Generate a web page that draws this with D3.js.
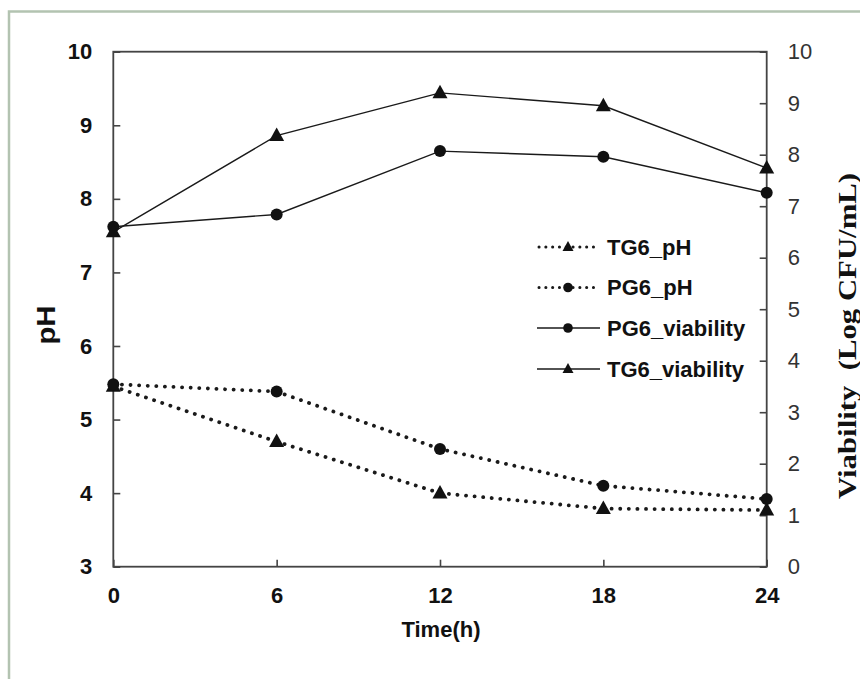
<!DOCTYPE html>
<html>
<head>
<meta charset="utf-8">
<script src="https://cdn.jsdelivr.net/npm/d3@7"></script>
<style>
  body { margin: 0; background: #fff; }
  svg { display: block; }
</style>
</head>
<body>
<div id="chart"></div>
<script>
////////////////////////////////////////////////////////////////
// Data

let hours = [0, 6, 12, 18, 24];

// left axis (pH)
let tg6PH = [5.45, 4.70, 4.00, 3.79, 3.77];
let pg6PH = [5.48, 5.38, 4.60, 4.10, 3.92];

// right axis (viability, log CFU/mL)
let pg6Viab = [6.6, 6.84, 8.07, 7.96, 7.26];
let tg6Viab = [6.5, 8.37, 9.2, 8.95, 7.74];

let xTicks = [0, 6, 12, 18, 24];
let leftTicks = [3, 4, 5, 6, 7, 8, 9, 10];
let rightTicks = [0, 1, 2, 3, 4, 5, 6, 7, 8, 9, 10];

let legendLabels = ["TG6_pH", "PG6_pH", "PG6_viability", "TG6_viability"];


////////////////////////////////////////////////////////////////
// Setup

let W = 860, H = 679;
let margin = {left: 113.3, right: 860 - 766.7, top: 51.7, bottom: 679 - 566.7};
let sans = "'Liberation Sans', Arial, sans-serif";
let serif = "'Liberation Serif', 'Times New Roman', serif";

let svg = d3.select("#chart").append("svg")
  .attr("width", W)
  .attr("height", H);

svg.append("rect")
  .attr("width", W)
  .attr("height", H)
  .attr("fill", "#fff");

// light outer frame (only top and left edges fall inside the picture)
svg.append("path")
  .attr("d", "M9,679 V11.5 H860")
  .attr("fill", "none")
  .attr("stroke", "#b3c3b1")
  .attr("stroke-width", 2.5);

let x = d3.scaleLinear().domain([0, 24]).range([margin.left, W - margin.right]);
let yL = d3.scaleLinear().domain([3, 10]).range([H - margin.bottom, margin.top]);
let yR = d3.scaleLinear().domain([0, 10]).range([H - margin.bottom, margin.top]);


////////////////////////////////////////////////////////////////
// Axes (ticks point inward)

let fmt = d3.format("d");

let xAxis = svg.append("g")
  .attr("transform", `translate(0,${yL(3)})`)
  .call(d3.axisBottom(x).tickValues(xTicks).tickFormat(fmt)
    .tickSize(-7).tickSizeOuter(0).tickPadding(21));

let leftAxis = svg.append("g")
  .attr("transform", `translate(${x(0)},0)`)
  .call(d3.axisLeft(yL).tickValues(leftTicks).tickFormat(fmt)
    .tickSize(-7).tickSizeOuter(0).tickPadding(21));

let rightAxis = svg.append("g")
  .attr("transform", `translate(${x(24)},0)`)
  .call(d3.axisRight(yR).tickValues(rightTicks).tickFormat(fmt)
    .tickSize(-7).tickSizeOuter(0).tickPadding(21));

for (let g of [xAxis, leftAxis, rightAxis]) {
  g.select(".domain").remove();
  g.selectAll(".tick line").attr("stroke", "#444").attr("stroke-width", 1.6);
}

xAxis.selectAll("text")
  .attr("font-family", sans).attr("font-size", 22).attr("font-weight", "bold").attr("fill", "#111");
leftAxis.selectAll("text")
  .attr("font-family", sans).attr("font-size", 22).attr("font-weight", "bold").attr("fill", "#111");
rightAxis.selectAll("text")
  .attr("font-family", sans).attr("font-size", 22).attr("fill", "#333");

// plot box
svg.append("rect")
  .attr("x", x(0))
  .attr("y", yL(10))
  .attr("width", x(24) - x(0))
  .attr("height", yL(3) - yL(10))
  .attr("fill", "none")
  .attr("stroke", "#444")
  .attr("stroke-width", 1.8);


////////////////////////////////////////////////////////////////
// Axis titles

svg.append("text")
  .attr("x", (x(0) + x(24)) / 2 + 1)
  .attr("y", 637)
  .attr("text-anchor", "middle")
  .attr("font-family", sans)
  .attr("font-size", 22)
  .attr("font-weight", "bold")
  .attr("fill", "#111")
  .text("Time(h)");

svg.append("text")
  .attr("transform", "translate(55,325) rotate(-90)")
  .attr("text-anchor", "middle")
  .attr("font-family", sans)
  .attr("font-size", 26)
  .attr("font-weight", "bold")
  .attr("textLength", 39)
  .attr("lengthAdjust", "spacingAndGlyphs")
  .attr("fill", "#111")
  .text("pH");

svg.append("text")
  .attr("transform", "translate(856,336) rotate(-90)")
  .attr("text-anchor", "middle")
  .attr("font-family", serif)
  .attr("font-size", 25)
  .attr("font-weight", "bold")
  .attr("textLength", 326)
  .attr("lengthAdjust", "spacingAndGlyphs")
  .attr("fill", "#111")
  .style("white-space", "pre")
  .text("Viability  (Log CFU/mL)");


////////////////////////////////////////////////////////////////
// Markers

function triPath(s) {
  // triangle centred on the point, width s
  let h = s * 0.9;
  return `M0,${-h * 0.6}L${s / 2},${h * 0.4}L${-s / 2},${h * 0.4}Z`;
}

function drawMarker(g, px, py, shape, size) {
  if (shape == "circle") {
    g.append("circle").attr("cx", px).attr("cy", py).attr("r", size).attr("fill", "#111");
  } else {
    g.append("path")
      .attr("d", triPath(size))
      .attr("transform", `translate(${px},${py})`)
      .attr("fill", "#111");
  }
}


////////////////////////////////////////////////////////////////
// Series

let series = [
  {vals: tg6PH, scale: yL, dotted: true, shape: "tri"},
  {vals: pg6PH, scale: yL, dotted: true, shape: "circle"},
  {vals: pg6Viab, scale: yR, dotted: false, shape: "circle"},
  {vals: tg6Viab, scale: yR, dotted: false, shape: "tri"}
];

for (let s of series) {
  let line = d3.line()
    .x((d, i) => x(hours[i]))
    .y(d => s.scale(d));

  let p = svg.append("path")
    .attr("d", line(s.vals))
    .attr("fill", "none")
    .attr("stroke", "#1a1a1a");

  if (s.dotted) {
    p.attr("stroke-width", 3.8)
      .attr("stroke-linecap", "round")
      .attr("stroke-dasharray", "0.1 8.5");
  } else {
    p.attr("stroke-width", 1.4);
  }
}

for (let s of series) {
  let g = svg.append("g");
  s.vals.forEach((v, i) => {
    drawMarker(g, x(hours[i]), s.scale(v), s.shape, s.shape == "circle" ? 6 : 15);
  });
}


////////////////////////////////////////////////////////////////
// Legend

let legendY = [247, 287.5, 328, 369];

legendLabels.forEach((lab, i) => {
  let s = series[i];
  let g = svg.append("g").attr("transform", `translate(0,${legendY[i]})`);

  let seg = g.append("line")
    .attr("x1", 537).attr("x2", 600)
    .attr("y1", 0).attr("y2", 0)
    .attr("stroke", "#1a1a1a");

  if (s.dotted) {
    seg.attr("x1", 539).attr("x2", 597)
      .attr("stroke-width", 3)
      .attr("stroke-linecap", "round")
      .attr("stroke-dasharray", "0.1 6.7");
  } else {
    seg.attr("stroke-width", 1.4);
  }

  drawMarker(g, 568, 0, s.shape, s.shape == "circle" ? 4.8 : 11);

  g.append("text")
    .attr("x", 607)
    .attr("y", 0)
    .attr("dy", "0.36em")
    .attr("font-family", sans)
    .attr("font-size", 22)
    .attr("font-weight", "bold")
    .attr("fill", "#111")
    .text(lab);
});
</script>
</body>
</html>
